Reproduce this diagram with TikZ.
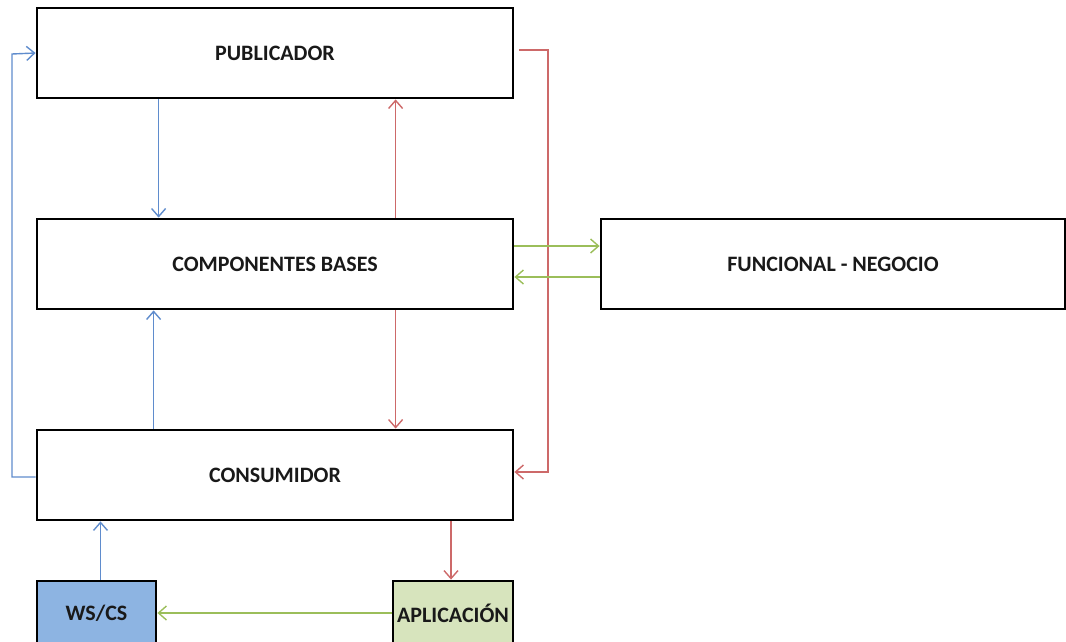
\documentclass[tikz,border=0pt]{standalone}
\usepackage{fontspec}
\setmainfont{Carlito}
\usetikzlibrary{arrows.meta}
\definecolor{lblue}{RGB}{95,140,205}
\definecolor{lred}{RGB}{205,105,105}
\definecolor{lgreen}{RGB}{155,190,90}
\definecolor{wsfill}{RGB}{141,180,226}
\definecolor{apfill}{RGB}{215,228,189}
\begin{document}
\begin{tikzpicture}[x=1pt,y=-1pt,
  box/.style={draw=black,line width=2.8pt,rectangle,inner sep=0pt,font=\fontsize{22}{26}\selectfont\bfseries,text=black!90},
  bigbox/.style={box,minimum width=476pt,minimum height=90pt},
  conn/.style={line width=1.4pt,-{Straight Barb[length=8pt,width=14pt,line width=1.4pt]}},
  bl/.style={conn,draw=lblue},
  rd/.style={conn,draw=lred},
  gr/.style={conn,draw=lgreen}]
\useasboundingbox (0,0) rectangle (1066,642);
\node[bigbox] (pub) at (275,53) {PUBLICADOR};
\node[bigbox] (comp) at (275,264) {COMPONENTES BASES};
\node[box,minimum width=464pt,minimum height=90pt] (func) at (833,264) {FUNCIONAL - NEGOCIO};
\node[bigbox] (cons) at (275,475) {CONSUMIDOR};
\node[box,fill=wsfill,minimum width=119pt,minimum height=64pt] (ws) at (96.5,613) {WS/CS};
\node[box,fill=apfill,minimum width=120pt,minimum height=64pt] (ap) at (453,613) {APLICACIÓN};
\coordinate (lb) at (12,54);
\coordinate (rs) at (519,50);
\coordinate (rc) at (548,50);
\coordinate (ce) at ([yshift=3pt]cons.east);
\coordinate (cw) at ([yshift=-2pt]cons.west);
\draw[bl] ([xshift=123pt]pub.south west) -- ([xshift=123pt]comp.north west);
\draw[bl] ([xshift=118pt]cons.north west) -- ([xshift=118pt]comp.south west);
\draw[bl] (cw) -- (cw -| lb) -- (lb) -- (pub.west);
\draw[rd] ([xshift=360pt]comp.north west) -- ([xshift=360pt]pub.south west);
\draw[rd] ([xshift=360pt]comp.south west) -- ([xshift=360pt]cons.north west);
\draw[rd] (rs) -- (rc) -- (rc |- ce) -- (ce);
\draw[gr] ([yshift=18pt]comp.east) -- ([yshift=18pt]func.west);
\draw[gr] ([yshift=-13pt]func.west) -- ([yshift=-13pt]comp.east);
\draw[rd] ([xshift=-2pt]ap.north |- cons.south) -- ([xshift=-2pt]ap.north);
\draw[bl] ([xshift=4pt]ws.north) -- ([xshift=4pt]ws.north |- cons.south);
\draw[gr] (ap.west) -- (ws.east);
\end{tikzpicture}
\end{document}
